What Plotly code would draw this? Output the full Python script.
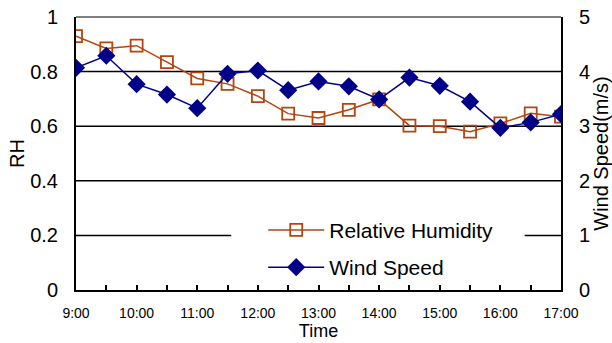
import plotly.graph_objects as go

times = ["9:00", "9:30", "10:00", "10:30", "11:00", "11:30", "12:00", "12:30",
         "13:00", "13:30", "14:00", "14:30", "15:00", "15:30", "16:00", "16:30", "17:00"]
tick_labels = ["9:00", "", "10:00", "", "11:00", "", "12:00", "", "13:00", "",
               "14:00", "", "15:00", "", "16:00", "", "17:00"]
rh = [0.93, 0.885, 0.895, 0.835, 0.775, 0.755, 0.71, 0.646, 0.63, 0.66,
      0.698, 0.602, 0.60, 0.58, 0.61, 0.647, 0.635]
wind = [4.07, 4.29, 3.77, 3.58, 3.33, 3.96, 4.02, 3.66, 3.82, 3.73,
        3.49, 3.89, 3.74, 3.45, 2.97, 3.07, 3.22]
rh_ticks = [0, 0.2, 0.4, 0.6, 0.8, 1]
rh_tick_text = ["0", "0.2", "0.4", "0.6", "0.8", "1"]
ws_ticks = [0, 1, 2, 3, 4, 5]

FONT = "Liberation Sans, Arial, sans-serif"
BROWN = "#B4450E"
NAVY = "#000088"

fig = go.Figure()
fig.add_trace(go.Scatter(
    x=times, y=rh, name="Relative Humidity", mode="lines+markers",
    line=dict(color=BROWN, width=1.5),
    marker=dict(symbol="square-open", size=12, color=BROWN, line=dict(width=1.8)),
    legendgroup="a",
))
fig.add_trace(go.Scatter(
    x=times, y=wind, name="Wind Speed", mode="lines+markers", yaxis="y2",
    line=dict(color=NAVY, width=1.5),
    marker=dict(symbol="diamond", size=14, color=NAVY),
    legendgroup="b",
))

# horizontal gridlines (the 0.2 line is interrupted behind the legend)
shapes = []
for v in rh_ticks[1:-1]:
    if v == 0.2:
        segs = [(0, 0.32), (0.925, 1)]
    else:
        segs = [(0, 1)]
    for a, b in segs:
        shapes.append(dict(type="line", xref="x domain", yref="y",
                           x0=a, x1=b, y0=v, y1=v,
                           line=dict(color="black", width=1.5), layer="below"))
shapes.append(dict(type="line", xref="x domain", yref="y domain",
                   x0=0, x1=1, y0=1, y1=1,
                   line=dict(color="#808080", width=2), layer="below"))

fig.update_layout(
    width=612, height=343,
    margin=dict(l=76, r=51, t=17, b=53, autoexpand=False),
    paper_bgcolor="white", plot_bgcolor="white",
    font=dict(family=FONT, color="black"),
    showlegend=True,
    legend=dict(x=0.386, y=0.294, xanchor="left", yanchor="top",
                bgcolor="rgba(0,0,0,0)", font=dict(size=21, family=FONT),
                traceorder="grouped", tracegroupgap=7, itemwidth=56),
    xaxis=dict(
        type="category", categoryorder="array", categoryarray=times,
        range=[0, len(times) - 1], automargin=False,
        tickmode="array", tickvals=times, ticktext=tick_labels,
        ticks="inside", ticklen=5, tickwidth=1.5, tickcolor="black",
        showline=True, linecolor="black", linewidth=2,
        showgrid=False, zeroline=False,
        tickfont=dict(size=14), ticklabelstandoff=9,
        title=dict(text="Time", font=dict(size=18), standoff=2),
    ),
    yaxis=dict(
        range=[0, 1], tickmode="array", tickvals=rh_ticks, ticktext=rh_tick_text,
        showline=True, linecolor="black", linewidth=2, automargin=False,
        showgrid=False, zeroline=False,
        tickfont=dict(size=20), ticks="", ticklabelstandoff=12,
        title=dict(text="RH", font=dict(size=20), standoff=0),
    ),
    yaxis2=dict(
        range=[0, 5], tickmode="array", tickvals=ws_ticks, overlaying="y", side="right",
        showline=True, linecolor="black", linewidth=2, automargin=False,
        showgrid=False, zeroline=False,
        tickfont=dict(size=20), ticks="", ticklabelstandoff=12,
        title=dict(text="Wind Speed(m/s)", font=dict(size=20), standoff=2),
    ),
    shapes=shapes,
)

fig.write_html("out.html")
